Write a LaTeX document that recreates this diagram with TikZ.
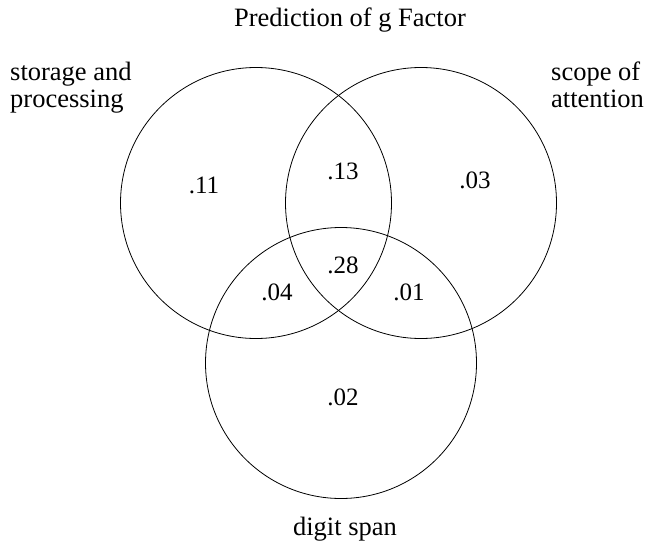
\documentclass[tikz,border=0pt]{standalone}
\usepackage{fontspec}
\setmainfont{Liberation Serif}
\usetikzlibrary{positioning}

\begin{document}
\begin{tikzpicture}[x=1pt,y=-1pt,
    set/.style={circle,draw,line width=0.8pt,minimum size=271pt,inner sep=0pt},
    share/.style={font=\fontsize{25}{30}\selectfont,inner sep=0pt},
    heading/.style={font=\fontsize{26.5}{27}\selectfont,inner sep=0pt,align=left}]
    \useasboundingbox (0,0) rectangle (645,546);

    % the three predictors
    \node[set] (SP) at (256,203) {};
    \node[set] (SA) at (421,203) {};
    \node[set] (DS) at (341,363) {};

    % shares of variance
    \node[share] (SPonly) at (204,185) {.11};
    \node[share] (SPSA) at (343,171) {.13};
    \node[share] (SAonly) at (475,180) {.03};
    \node[share] (all) at (343,265) {.28};
    \node[share] (SPDS) at (277,292) {.04};
    \node[share] (SADS) at (409,292) {.01};
    \node[share] (DSonly) at (343,397) {.02};

    % titles
    \node[heading,anchor=base] (title) at (350,27) {Prediction of g Factor};
    \node[heading,anchor=north west] (SPname) at (10,62) {storage and\\processing};
    \node[heading,anchor=north west] (SAname) at (551,62) {scope of\\attention};
    \node[heading,anchor=base] (DSname) at (345,535) {digit span};

\end{tikzpicture}
\end{document}
